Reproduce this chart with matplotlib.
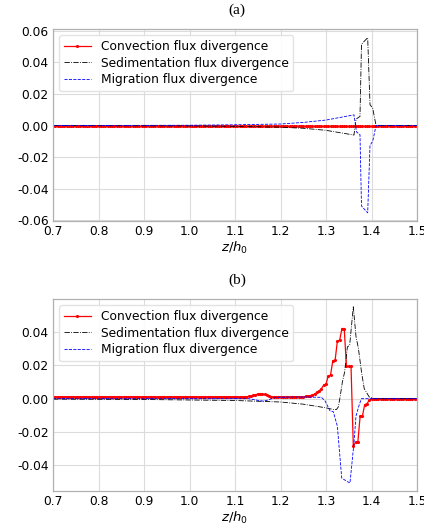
import numpy as np
import matplotlib
matplotlib.use("Agg")
import matplotlib.pyplot as plt

# common grid of the convection term (markers on every point)
z_grid = np.round(np.arange(0.7, 1.5 + 1e-9, 0.005), 3)

# (a) -------------------------------------------------------------
conv_a = [0.0] * len(z_grid)

sed_a_z = [0.70, 1.00, 1.10, 1.20, 1.25, 1.30, 1.3615, 1.366, 1.3747, 1.378,
           1.3916, 1.3967, 1.4026, 1.41, 1.50]
sed_a = [0.0, -0.0002, -0.0005, -0.0010, -0.0017, -0.0030, -0.0060, 0.0041,
         0.0058, 0.0516, 0.0557, 0.0132, 0.0111, 0.0, 0.0]

mig_a_z = [0.70, 1.00, 1.10, 1.20, 1.25, 1.30, 1.3615, 1.367, 1.3747, 1.378,
           1.3916, 1.3967, 1.4026, 1.41, 1.50]
mig_a = [0.0, 0.0002, 0.0005, 0.0010, 0.0020, 0.0035, 0.0068, -0.0040,
         -0.0058, -0.0510, -0.0553, -0.0125, -0.0100, 0.0, 0.0]

# (b) -------------------------------------------------------------
conv_b = ([0.0011] * 86
          + [0.0013, 0.0016, 0.0020, 0.0024, 0.0027, 0.0029, 0.0028, 0.0025,
             0.0020, 0.0015, 0.0012]
          + [0.0011] * 13
          + [0.0012, 0.0013, 0.0015, 0.0018, 0.0021, 0.0028, 0.0038, 0.0047,
             0.0060, 0.0082, 0.0088, 0.0135, 0.0142, 0.0228, 0.0230, 0.0345,
             0.0350, 0.0420, 0.0420, 0.0193, 0.0193, 0.0193, -0.0286, -0.0260,
             -0.0260, -0.0105, -0.0105, -0.0036, -0.0030, -0.0010, -0.0003]
          + [0.0] * 20)

sed_b_z = [0.70, 0.90, 1.00, 1.10, 1.20, 1.25, 1.30, 1.316, 1.323, 1.327,
           1.331, 1.336, 1.341, 1.347, 1.352, 1.360, 1.366, 1.371, 1.378,
           1.384, 1.395, 1.406, 1.50]
sed_b = [-0.0003, -0.0005, -0.0008, -0.0011, -0.0020, -0.0033, -0.0055,
         -0.0065, -0.0065, -0.0050, 0.0010, 0.0100, 0.0160, 0.0310, 0.0320,
         0.0550, 0.0370, 0.0305, 0.0160, 0.0060, 0.0010, 0.0, 0.0]

mig_b_z = [0.70, 1.00, 1.13, 1.15, 1.16, 1.17, 1.19, 1.25, 1.29, 1.298,
           1.309, 1.316, 1.325, 1.3345, 1.3455, 1.3527, 1.3615, 1.3659,
           1.3733, 1.378, 1.50]
mig_b = [0.0, 0.0, 0.0, -0.0010, -0.0014, -0.0010, 0.0008, 0.0010, 0.0008,
         -0.0014, -0.0074, -0.0078, -0.0165, -0.0475, -0.0495, -0.0505,
         -0.0264, -0.0104, -0.0034, 0.0, 0.0]

labels = ["Convection flux divergence", "Sedimentation flux divergence",
          "Migration flux divergence"]
xticks = [0.7, 0.8, 0.9, 1.0, 1.1, 1.2, 1.3, 1.4, 1.5]


def style(ax, ylim, yticks):
    ax.set_xlim(0.7, 1.5)
    ax.set_ylim(*ylim)
    ax.set_xticks(xticks)
    ax.set_xticklabels(["%.1f" % t for t in xticks])
    ax.set_yticks(yticks)
    ax.set_yticklabels(["%.2f" % t if t != 0 else "0.00" for t in yticks])
    ax.grid(True, color="#dcdcdc", lw=0.8)
    ax.set_axisbelow(True)
    for s in ax.spines.values():
        s.set_color("#b0b0b0")
        s.set_linewidth(0.9)
    ax.tick_params(length=0, labelsize=8.8, pad=3)
    ax.set_xlabel("$z/h_0$", fontsize=9.5, labelpad=1)
    ax.legend(loc="upper left", fontsize=8.8, handlelength=2.2,
              framealpha=0.9, edgecolor="#e0e0e0", borderpad=0.4,
              labelspacing=0.3)


fig = plt.figure(figsize=(4.24, 5.25), dpi=100)
ax1 = fig.add_axes([0.125, 0.579, 0.8585, 0.3657])
ax2 = fig.add_axes([0.125, 0.0648, 0.8585, 0.3657])

ax1.plot(z_grid, conv_a, "r.-", lw=0.9, ms=2.5, label=labels[0])
ax1.plot(sed_a_z, sed_a, "k-.", lw=0.6, label=labels[1])
ax1.plot(mig_a_z, mig_a, "b--", lw=0.6, label=labels[2])
style(ax1, (-0.0605, 0.0612), [-0.06, -0.04, -0.02, 0.0, 0.02, 0.04, 0.06])

ax2.plot(z_grid, conv_b, "r.-", lw=0.9, ms=2.5, label=labels[0])
ax2.plot(sed_b_z, sed_b, "k-.", lw=0.6, label=labels[1])
ax2.plot(mig_b_z, mig_b, "b--", lw=0.6, label=labels[2])
style(ax2, (-0.0553, 0.0597), [-0.04, -0.02, 0.0, 0.02, 0.04])

fig.text(0.559, 0.981, "(a)", ha="center", va="center", fontsize=11,
         family="Liberation Serif")
fig.text(0.559, 0.467, "(b)", ha="center", va="center", fontsize=11,
         family="Liberation Serif")

fig.savefig("out.png", dpi=100)
